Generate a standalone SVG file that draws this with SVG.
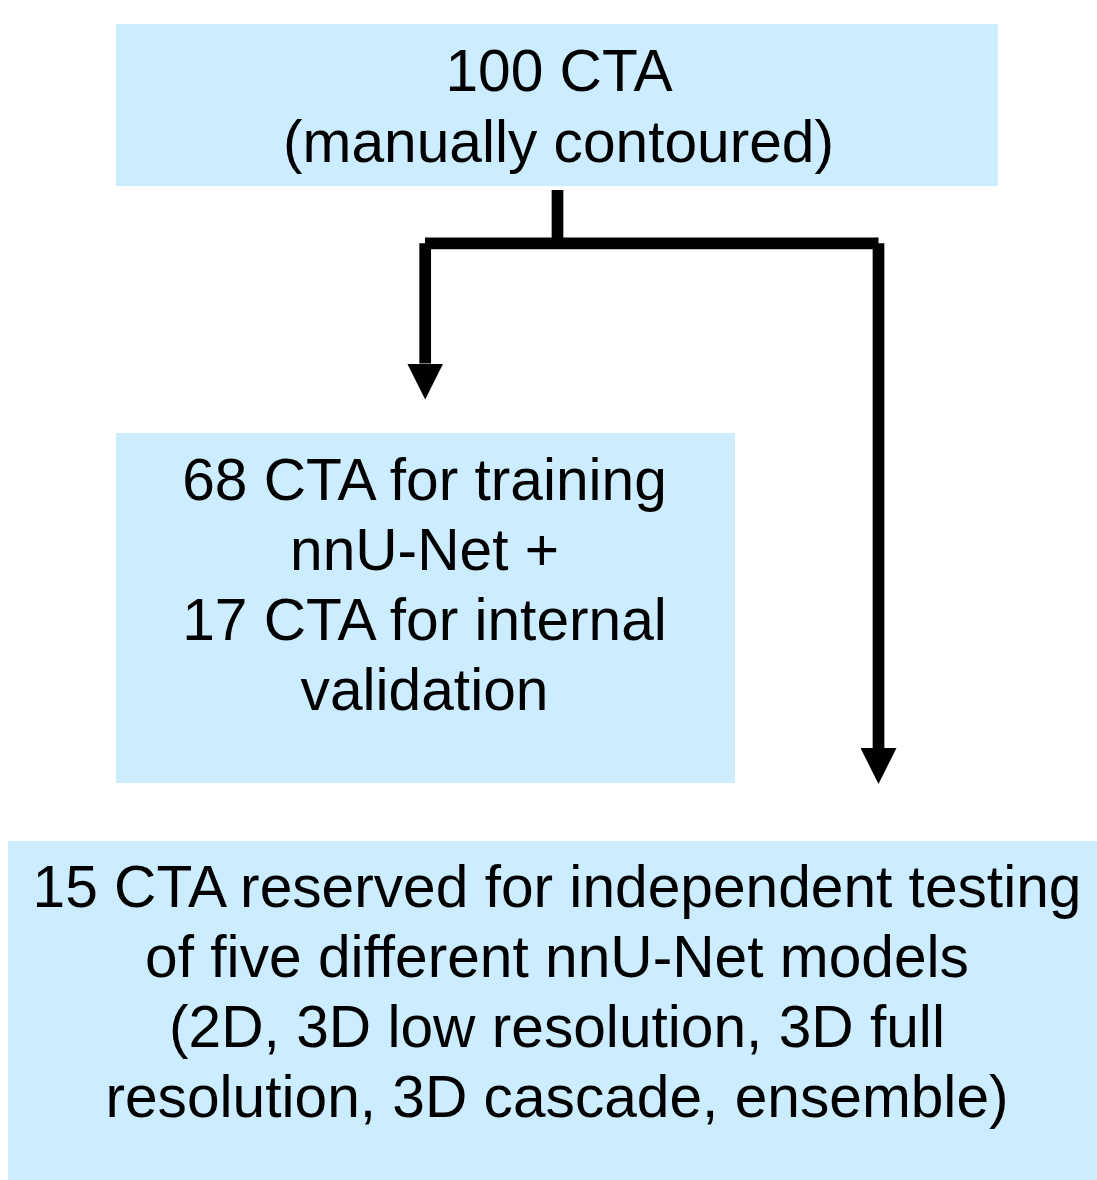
<svg xmlns="http://www.w3.org/2000/svg" width="1097" height="1180" viewBox="0 0 1097 1180">
  <style>
    .box { fill: #CCECFF; stroke: none; }
    .label { font-family: "Liberation Sans", Arial, sans-serif; font-size: 58.67px; fill: #000000; text-anchor: middle; }
    .conn { stroke: #000000; stroke-width: 11.7; fill: none; stroke-linecap: butt; }
  </style>
  <defs>
    <marker id="arrow" markerUnits="userSpaceOnUse" markerWidth="36" markerHeight="36" viewBox="0 0 36 36" refX="0" refY="18" orient="auto">
      <path d="M0,0 L36,18 L0,36 Z" fill="#000000"/>
    </marker>
  </defs>
  <rect width="1097" height="1180" fill="#FFFFFF"/>

  <g id="node-all">
    <rect class="box" x="116" y="24" width="882" height="162"/>
    <text class="label" x="559" y="91">100 CTA</text>
    <text class="label" x="558.5" y="162">(manually contoured)</text>
  </g>

  <g id="node-train">
    <rect class="box" x="116" y="433" width="619" height="350"/>
    <text class="label" x="424.5" y="500">68 CTA for training</text>
    <text class="label" x="424.5" y="570">nnU-Net +</text>
    <text class="label" x="424.5" y="640">17 CTA for internal</text>
    <text class="label" x="424.5" y="710">validation</text>
  </g>

  <g id="node-test">
    <rect class="box" x="8" y="841" width="1089" height="339"/>
    <text class="label" x="557" y="907">15 CTA reserved for independent testing</text>
    <text class="label" x="557" y="977">of five different nnU-Net models</text>
    <text class="label" x="557" y="1047">(2D, 3D low resolution, 3D full</text>
    <text class="label" x="557" y="1117">resolution, 3D cascade, ensemble)</text>
  </g>

  <g id="connectors">
    <line class="conn" x1="557.5" y1="190" x2="557.5" y2="243.3"/>
    <line class="conn" x1="425" y1="243.3" x2="878.5" y2="243.3"/>
    <line class="conn" x1="425.2" y1="243.3" x2="425.2" y2="363.5" marker-end="url(#arrow)"/>
    <line class="conn" x1="878.5" y1="243.3" x2="878.5" y2="748" marker-end="url(#arrow)"/>
  </g>
</svg>
